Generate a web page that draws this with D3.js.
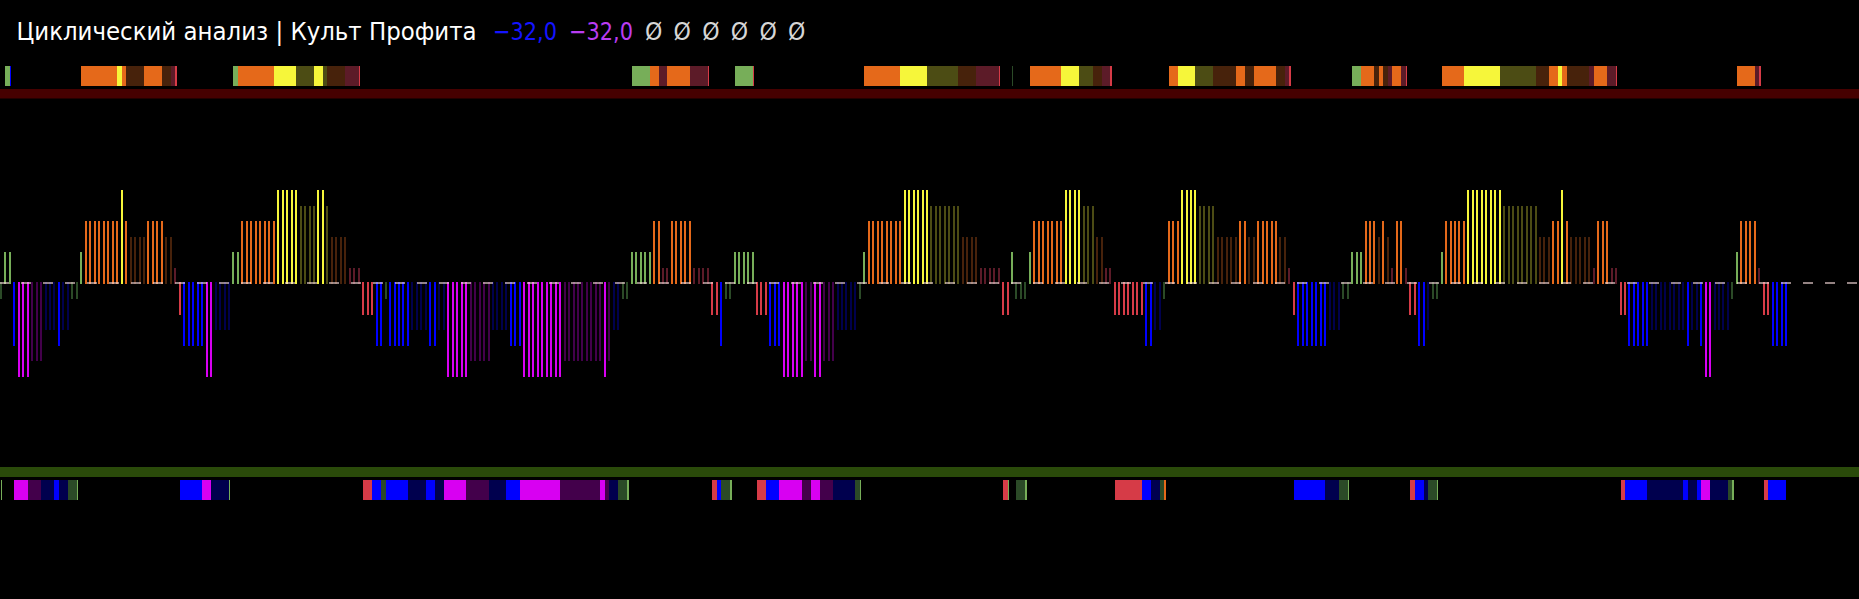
<!DOCTYPE html>
<html>
<head>
<meta charset="utf-8">
<script src="https://cdn.jsdelivr.net/npm/d3@7"></script>
<style>
  html, body { margin: 0; padding: 0; background: #000; overflow: hidden; }
  svg { display: block; }
</style>
</head>
<body>
<div id="chart"></div>
<script>
// ---------------- DATA ----------------
const titleText = "Циклический анализ | Культ Профита";
const headerValues = ["−32,0", "−32,0"];
const headerValueColors = ["#1414ff", "#b93cf2"];
const markers = ["Ø", "Ø", "Ø", "Ø", "Ø", "Ø"];

// cycle value of each bar (positive = up phase, negative = down phase)
const cycleValues = [
  -1, 2, 2, -4, -6, -6, -6, -5, -5, -5, -3, -3, -3, -4, -3, -3, -1, -1, 2,
  4, 4, 4, 4, 4, 4, 4, 4, 6, 4, 3, 3, 3, 3, 4, 4, 4, 4, 3, 3, 1,
  -2, -4, -4, -4, -4, -4, -6, -6, -3, -3, -3, -3,
  2, 2, 4, 4, 4, 4, 4, 4, 4, 4, 6, 6, 6, 6, 6, 5, 5, 5, 5, 6, 6, 5, 3, 3, 3, 3, 1, 1, 1,
  -2, -2, -2, -4, -4, -1, -4, -4, -4, -4, -4, -3, -3, -3, -3, -4, -4, -3, -3,
  -6, -6, -6, -6, -6, -5, -5, -5, -5, -5, -3, -3, -3, -3, -4, -4, -4,
  -6, -6, -6, -6, -6, -6, -6, -6, -6, -5, -5, -5, -5, -5, -5, -5, -5, -5, -6, -5, -3, -3, -1, -1,
  2, 2, 2, 2, 2, 4, 4, 1, 1, 4, 4, 4, 4, 4, 1, 1, 1, 1,
  -2, -2, -4, -1, -1,
  2, 2, 2, 2, 2,
  -2, -2, -2, -4, -4, -4, -6, -6, -6, -6, -6, -5, -5, -6, -6, -5, -5, -5, -3, -3, -3, -3, -3, -1,
  2, 4, 4, 4, 4, 4, 4, 4, 4, 6, 6, 6, 6, 6, 6, 5, 5, 5, 5, 5, 5, 5, 3, 3, 3, 3, 1, 1, 1, 1, 1,
  -2, -2, 2, -1, -1, -1,
  2, 4, 4, 4, 4, 4, 4, 4, 6, 6, 6, 6, 5, 5, 5, 3, 3, 1, 1,
  -2, -2, -2, -2, -2, -2, -2, -4, -4, -3, -3, -1,
  4, 4, 4, 6, 6, 6, 6, 5, 5, 5, 5, 3, 3, 3, 3, 3, 4, 4, 3, 3, 4, 4, 4, 4, 4, 3, 3, 1,
  -2, -4, -4, -4, -4, -4, -4, -4, -3, -3, -3, -1, -1,
  2, 2, 2, 4, 4, 4, 3, 4, 3, 1, 4, 4, 1,
  -2, -2, -4, -4, -3, -1, -1,
  2, 4, 4, 4, 4, 4, 6, 6, 6, 6, 6, 6, 6, 6, 5, 5, 5, 5, 5, 5, 5, 5, 3, 3, 3, 4, 4, 6, 4,
  3, 3, 3, 3, 3, 1, 4, 4, 4, 1, 1,
  -2, -2, -4, -4, -4, -4, -4, -3, -3, -3, -3, -3, -3, -3, -3, -4, -3, -3, -4, -6, -6, -3, -3, -3, -3, -1,
  2, 4, 4, 4, 4, 1,
  -2, -2, -4, -4, -4, -4
];

// colour of each cycle level
const levelKeys   = [6, 5, 4, 3, 2, 1, -1, -2, -3, -4, -5, -6];
const levelColors = ["#f6f63a", "#4c4c14", "#e5691a", "#47220b", "#77ae59", "#5c1b28",
                     "#2b4a27", "#d63b47", "#00004e", "#0000ff", "#43004b", "#d800f2"];

// ---------------- LAYOUT ----------------
const W = 1859, H = 599;
const colorOf = d3.scaleOrdinal().domain(levelKeys).range(levelColors);

const svg = d3.select("#chart").append("svg")
  .attr("width", W).attr("height", H)
  .style("background", "#000");

const x = d3.scaleLinear().domain([0, cycleValues.length - 1]).range([0.8, 1786.1]);
const y = d3.scaleLinear().domain([-6, 6]).range([377, 190]);
const zero = y(0);

// ---------------- TITLE ----------------
const font = "'Liberation Sans Narrow', 'DejaVu Sans Condensed', 'Roboto Condensed', sans-serif";
svg.append("text")
  .attr("x", 16.5).attr("y", 39.5)
  .attr("fill", "#ffffff")
  .attr("font-family", font).attr("font-size", 24.5)
  .attr("textLength", 460).attr("lengthAdjust", "spacingAndGlyphs")
  .text(titleText);

svg.selectAll("text.hv").data(headerValues).enter().append("text")
  .attr("class", "hv")
  .attr("x", (d, i) => 493 + i * 76).attr("y", 39.5)
  .attr("fill", (d, i) => headerValueColors[i])
  .attr("font-family", font).attr("font-size", 24.5)
  .attr("textLength", 64).attr("lengthAdjust", "spacingAndGlyphs")
  .text(d => d);

svg.selectAll("text.mk").data(markers).enter().append("text")
  .attr("class", "mk")
  .attr("x", (d, i) => 645 + i * 28.6).attr("y", 39.5)
  .attr("fill", "#d6d6d6")
  .attr("font-family", font).attr("font-size", 24.5)
  .text(d => d);

// ---------------- SEPARATOR LINES ----------------
svg.append("rect").attr("x", 0).attr("y", 89).attr("width", W).attr("height", 9.5).attr("fill", "#460000");
svg.append("rect").attr("x", 0).attr("y", 467).attr("width", W).attr("height", 10).attr("fill", "#2a4a0a");

// ---------------- PHASE STRIPS (derived from the bars) ----------------
const pairs = d3.pairs(cycleValues.map((v, i) => ({ v, i })));
function strip(top, h, isPhase) {
  const g = svg.append("g").attr("shape-rendering", "crispEdges");
  pairs.forEach(([a, b]) => {
    if (!isPhase(a.v)) return;
    const x0 = x(a.i), x1 = x(b.i);
    if (isPhase(b.v)) {
      g.append("rect").attr("x", x0).attr("y", top).attr("width", x1 - x0).attr("height", h)
        .attr("fill", colorOf(b.v));
    } else {
      g.append("rect").attr("x", x0).attr("y", top).attr("width", 1.4).attr("height", h)
        .attr("fill", colorOf(b.v));
    }
  });
}
strip(66, 20, v => v > 0);
strip(480, 20, v => v < 0);

// ---------------- BARS ----------------
svg.append("g").attr("shape-rendering", "crispEdges")
  .selectAll("rect").data(cycleValues).enter().append("rect")
  .attr("x", (d, i) => x(i) - 1)
  .attr("width", 2)
  .attr("y", d => d > 0 ? y(d) : zero - 1.5)
  .attr("height", d => d > 0 ? (zero + 0.5 - y(d)) : (y(d) - zero + 1.5))
  .attr("fill", d => colorOf(d));

// ---------------- ZERO LINE (dashed) ----------------
svg.append("line")
  .attr("x1", -1).attr("x2", W).attr("y1", zero - 0.5).attr("y2", zero - 0.5)
  .attr("stroke", "rgba(255,225,225,0.58)")
  .attr("stroke-width", 2)
  .attr("stroke-dasharray", "10 12");
</script>
</body>
</html>
